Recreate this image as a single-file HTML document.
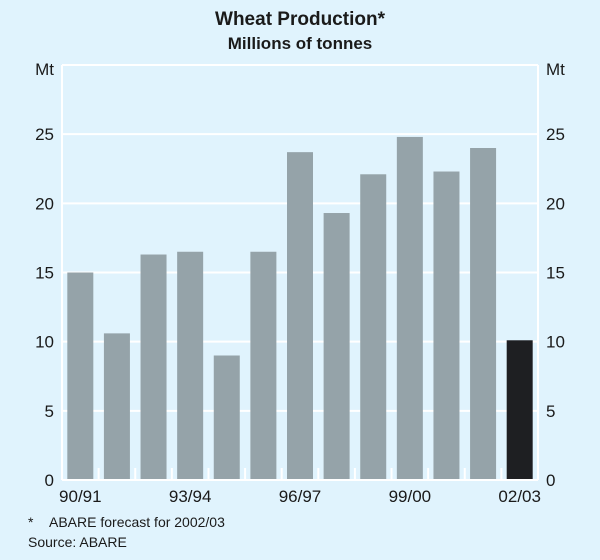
<!DOCTYPE html>
<html><head><meta charset="utf-8"><style>
body{margin:0;background:#e0f3fd;}
svg{display:block;font-family:"Liberation Sans",Arial,sans-serif;}
</style></head><body>
<svg width="600" height="560">
<rect x="0" y="0" width="600" height="560" fill="#e0f3fd"/>
<text x="300" y="25" text-anchor="middle" font-size="19" font-weight="bold" fill="#1a1a1a">Wheat Production*</text>
<text x="300" y="49" text-anchor="middle" font-size="17" font-weight="bold" fill="#1a1a1a">Millions of tonnes</text>
<g id="grid"></g>
<g id="bars"></g>
<g id="axes"></g>
<text x="28" y="547" font-size="14" fill="#1a1a1a">Source: ABARE</text>
<text x="28" y="527" font-size="14" fill="#1a1a1a">*&#160;&#160;&#160;&#160;ABARE forecast for 2002/03</text>
</svg>
<script>
const categories=["90/91","91/92","92/93","93/94","94/95","95/96","96/97","97/98","98/99","99/00","00/01","01/02","02/03"];
const production=[15.0,10.6,16.3,16.5,9.0,16.5,23.7,19.3,22.1,24.8,22.3,24.0,10.1];
const forecast=[false,false,false,false,false,false,false,false,false,false,false,false,true];
const yTicks=[0,5,10,15,20,25];
const xLabels=["90/91","93/94","96/97","99/00","02/03"];
const NS="http://www.w3.org/2000/svg";
const L=62,R=538,T=65,B=480,YMAX=30;
const slot=(R-L)/categories.length;
function y(v){return B-(v/YMAX)*(B-T);}
function xc(i){return L+slot*(i+0.5);}
function mk(tag,attrs,parent){const e=document.createElementNS(NS,tag);for(const k in attrs)e.setAttribute(k,attrs[k]);document.getElementById(parent).appendChild(e);return e;}
yTicks.forEach(v=>{
  const g=mk('line',{x1:L,x2:R,y1:y(v),y2:y(v),stroke:"#ffffff","stroke-width":2},'grid');
  
  
  const t1=mk('text',{x:L-8,y:y(v)+6,"text-anchor":"end","font-size":17,fill:"#1a1a1a"},'axes');
  t1.textContent=v;
  
  
  const t2=mk('text',{x:R+8,y:y(v)+6,"text-anchor":"start","font-size":17,fill:"#1a1a1a"},'axes');
  t2.textContent=v;
  
  
});
const tg=mk('line',{x1:L,x2:R,y1:T,y2:T,stroke:"#fff","stroke-width":2},'grid');


["left","right"].forEach((s,k)=>{
  const xx=k?R:L;
  const a=mk('line',{x1:xx,x2:xx,y1:T,y2:B,stroke:"#fff","stroke-width":2},'axes');
  
  
  const m=mk('text',{x:k?R+8:L-8,y:T+10,"text-anchor":k?"start":"end","font-size":17,fill:"#1a1a1a"},'axes');
  m.textContent="Mt";
  
  
});
production.forEach((v,i)=>{
  const r=mk('rect',{x:xc(i)-13,y:y(v),width:26,height:B-y(v),fill:forecast[i]?"#1e1f22":"#95a3a9"},'bars');
  
  
});
const base=mk('line',{x1:L,x2:R,y1:B,y2:B,stroke:"#fff","stroke-width":2},'axes');


for(let i=1;i<categories.length;i++){
  const xx=L+slot*i;
  const tk=mk('line',{x1:xx,x2:xx,y1:B-12,y2:B,stroke:"#fff","stroke-width":2},'axes');
  
  
}
xLabels.forEach(lab=>{
  const i=categories.indexOf(lab);
  const t=mk('text',{x:xc(i),y:B+22,"text-anchor":"middle","font-size":17,fill:"#1a1a1a"},'axes');
  t.textContent=lab;
  
  
});
</script>
</body></html>
